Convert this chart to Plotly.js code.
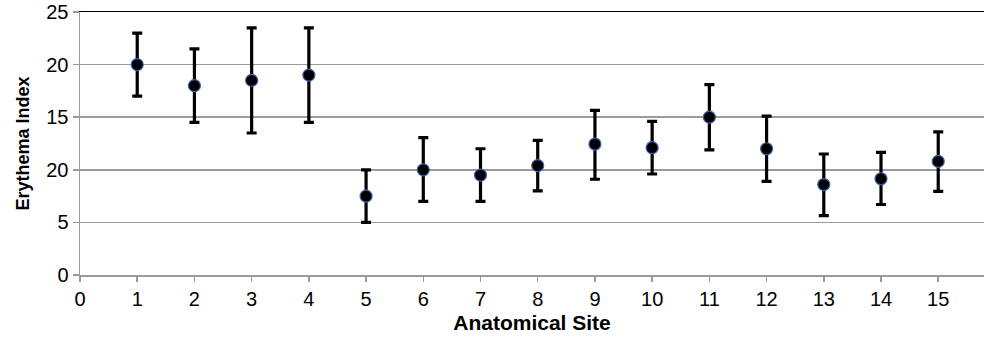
<!DOCTYPE html>
<html>
<head>
<meta charset="utf-8">
<script src="https://cdn.plot.ly/plotly-3.0.1.min.js"></script>
<style>html,body{margin:0;padding:0;background:#fff;}#chart{width:984px;height:340px;}</style>
</head>
<body>
<div id="chart"></div>
<script>
const sites = [1,2,3,4,5,6,7,8,9,10,11,12,13,14,15];
const meanValues = [20.0,18.0,18.5,19.0,7.5,10.0,9.5,10.4,12.45,12.1,15.0,12.0,8.6,9.15,10.8];
const upperValues = [23.0,21.5,23.5,23.5,10.0,13.05,12.0,12.8,15.65,14.6,18.1,15.1,11.5,11.65,13.6];
const lowerValues = [17.0,14.5,13.5,14.5,5.0,7.0,7.0,8.0,9.1,9.6,11.9,8.9,5.65,6.7,7.95];
const yTickVals = [0,5,10,15,20,25];
const yTickText = ['0','5','20','15','20','25'];
const xTickVals = [0,1,2,3,4,5,6,7,8,9,10,11,12,13,14,15];

const errPlus = meanValues.map((m,i)=>upperValues[i]-m);
const errMinus = meanValues.map((m,i)=>m-lowerValues[i]);

const trace = {
  x: sites, y: meanValues, type:'scatter', mode:'markers',
  marker:{size:12,color:'#000',line:{color:'#3d5fb0',width:1.2}},
  error_y:{type:'data',symmetric:false,array:errPlus,arrayminus:errMinus,color:'#000',thickness:3.2,width:5},
  showlegend:false, hoverinfo:'none'
};
const topLine = {x:[],y:[],xaxis:'x2',yaxis:'y',type:'scatter',showlegend:false};

const font = {family:'"Liberation Sans", Arial, Helvetica, sans-serif', color:'#000'};
const layout = {
  width:984, height:340,
  margin:{l:80,r:0,t:12,b:65},
  paper_bgcolor:'#fff', plot_bgcolor:'#fff',
  font:font,
  xaxis:{range:[0,15.8],tickvals:xTickVals,ticktext:xTickVals.map(String),showgrid:false,zeroline:false,
    showline:true,linecolor:'#9a9a9a',linewidth:1.5,ticks:'outside',ticklen:5,tickwidth:1.5,tickcolor:'#9a9a9a',
    tickfont:{size:20,family:font.family,color:'#000'},
    title:{text:'<b>Anatomical Site</b>',font:{size:21,family:font.family,color:'#000'},standoff:7}},
  xaxis2:{overlaying:'x',side:'top',anchor:'y',range:[0,15.8],showline:true,linecolor:'#000',linewidth:1.5,
    showticklabels:false,ticks:'',showgrid:false,zeroline:false},
  yaxis:{range:[0,25],tickvals:yTickVals,ticktext:yTickText,showgrid:true,gridcolor:'#9a9a9a',gridwidth:1.5,zeroline:false,
    showline:true,linecolor:'#9a9a9a',linewidth:1.5,ticks:'outside',ticklen:6,tickwidth:1.5,tickcolor:'#9a9a9a',
    tickfont:{size:20,family:font.family,color:'#000'},
    title:{text:'<b>Erythema Index</b>',font:{size:18,family:font.family,color:'#000'},standoff:12}}
};
Plotly.newPlot('chart',[trace,topLine],layout,{displayModeBar:false,staticPlot:true});
</script>
</body>
</html>
